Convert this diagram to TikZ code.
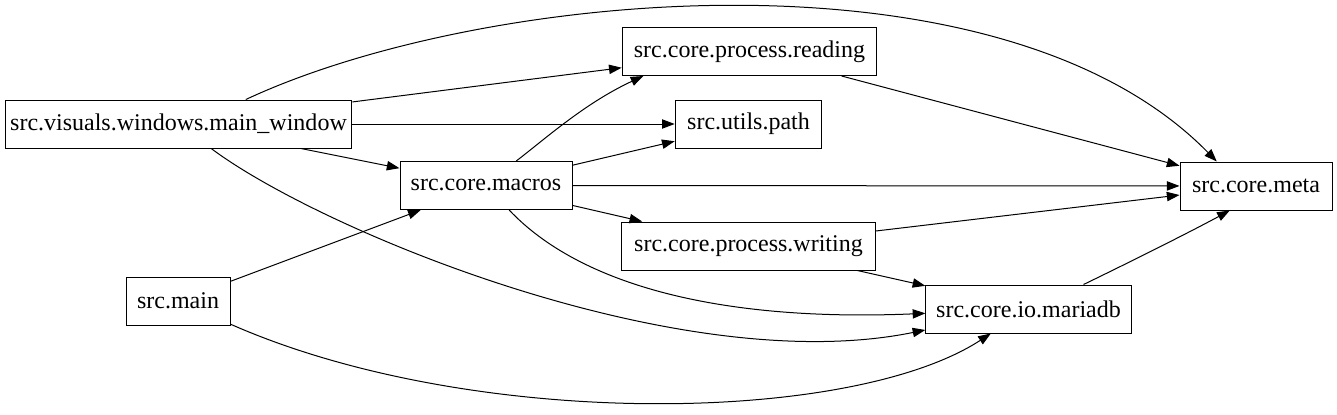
\documentclass[tikz,border=0pt]{standalone}
\usepackage{fontspec}
\setmainfont{Liberation Serif}
\usetikzlibrary{arrows.meta}

\begin{document}
\begin{tikzpicture}[x=.75pt,y=-.75pt,>={Triangle[length=9.5pt,width=7pt]},
  font=\fontsize{18}{21}\selectfont,
  every node/.style={inner sep=0pt},
  mod/.style={draw,minimum height=36pt,inner xsep=2pt},
  line width=.75pt]
\path[use as bounding box] (0,0) rectangle (1337,414);

\node[mod,minimum width=260pt] (mainwin) at (178.5,124) {src.visuals.windows.main\_window};
\node[mod,minimum width=78pt] (srcmain) at (178,301) {src.main};
\node[mod,minimum width=129pt] (macros) at (486,185.5) {src.core.macros};
\node[mod,minimum width=191pt] (reading) at (749.5,51.5) {src.core.process.reading};
\node[mod,minimum width=110pt] (utilpath) at (748.5,124) {src.utils.path};
\node[mod,minimum width=190pt] (writing) at (748.5,246) {src.core.process.writing};
\node[mod,minimum width=154pt] (mariadb) at (1028.5,309) {src.core.io.mariadb};
\node[mod,minimum width=114pt] (meta) at (1256,186) {src.core.meta};

\draw[->] (mainwin.20) .. controls (480,-10) and (1000,-60) .. (meta.148);
\draw[->] (mainwin) -- (reading);
\draw[->] (mainwin) -- (utilpath);
\draw[->] (mainwin) -- (macros);
\draw[->] (mainwin) .. controls (320,230) and (680,380) .. (mariadb);
\draw[->] (srcmain) -- (macros);
\draw[->] (srcmain) .. controls (470,430) and (850,425) .. (mariadb);
\draw[->] (macros.39) .. controls (545,139) and (585,103) .. (reading.193);
\draw[->] (macros) -- (utilpath);
\draw[->] (macros) -- (meta);
\draw[->] (macros) -- (writing);
\draw[->] (macros) .. controls (580,285) and (720,322) .. (mariadb);
\draw[->] (reading) -- (meta);
\draw[->] (writing) -- (meta);
\draw[->] (writing) -- (mariadb);
\draw[->] (mariadb.24) .. controls (1130,262) and (1190,232) .. (meta.223);
\end{tikzpicture}
\end{document}
